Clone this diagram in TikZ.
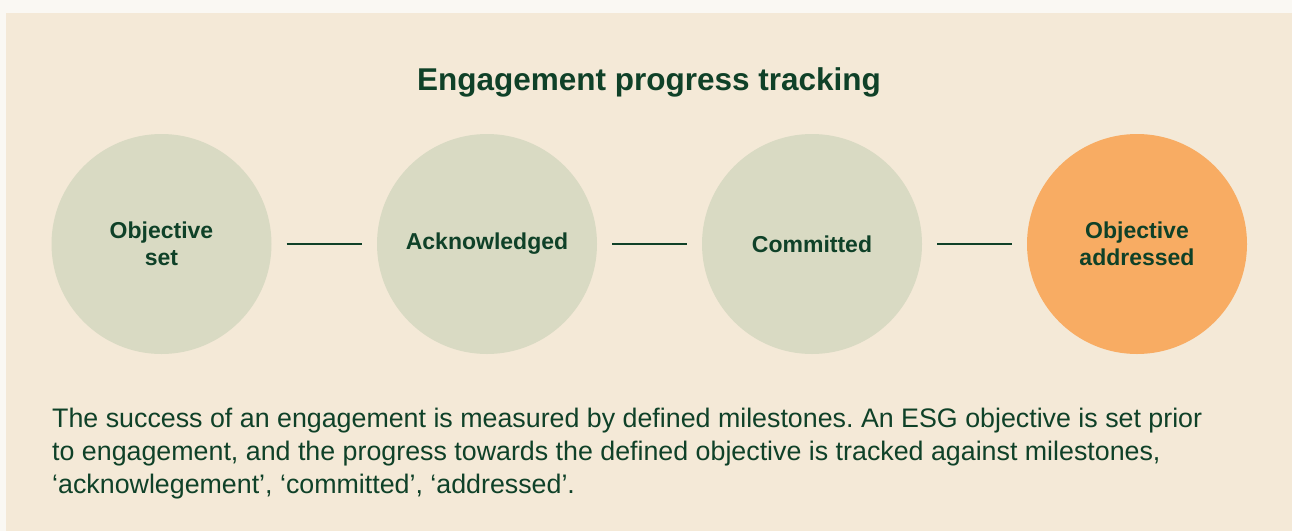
\documentclass[tikz,border=0pt]{standalone}
\usepackage{fontspec}
\setmainfont{Liberation Sans}
\frenchspacing
\definecolor{outerbg}{HTML}{FAF8F3}
\definecolor{panel}{HTML}{F4E9D7}
\definecolor{sage}{HTML}{D9DAC3}
\definecolor{peach}{HTML}{F8AC63}
\definecolor{ink}{HTML}{0F4128}
\begin{document}
\begin{tikzpicture}[x=1pt,y=-1pt,
  stage/.style={circle,minimum size=220pt,inner sep=0pt,fill=sage,text=ink,
    font=\fontsize{23}{27}\selectfont\bfseries,align=center},
  link/.style={draw=ink,line width=2.4pt}]
\fill[outerbg] (0,0) rectangle (1292,531);
\fill[panel] (6,13) rectangle (1292,531);
\useasboundingbox (0,0) rectangle (1292,531);
\node[text=ink,anchor=base,inner sep=0pt,font=\fontsize{31.5}{36}\selectfont\bfseries] (title) at (649,90) {Engagement progress tracking};
\node[stage] (s1) at (161.5,244) {Objective\\set};
\node[stage] (s2) at (487,244) {Acknowledged};
\node[stage] (s3) at (812,244) {Committed};
\node[stage,fill=peach] (s4) at (1137,244) {Objective\\addressed};
\path (s1.east) ++(15,0) coordinate (a1) (s2.west) ++(-15,0) coordinate (b1);
\path (s2.east) ++(15,0) coordinate (a2) (s3.west) ++(-15,0) coordinate (b2);
\path (s3.east) ++(15,0) coordinate (a3) (s4.west) ++(-15,0) coordinate (b3);
\draw[link] (a1) -- (b1);
\draw[link] (a2) -- (b2);
\draw[link] (a3) -- (b3);
\node[anchor=north west,text=ink,inner sep=0pt,align=left,
  font=\fontsize{26.8}{33}\selectfont] (para) at (52,408)
  {The success of an engagement is measured by defined milestones. An ESG objective is set prior\\
   to engagement, and the progress towards the defined objective is tracked against milestones,\\
   ‘acknowlegement’, ‘committed’, ‘addressed’.};
\end{tikzpicture}
\end{document}
